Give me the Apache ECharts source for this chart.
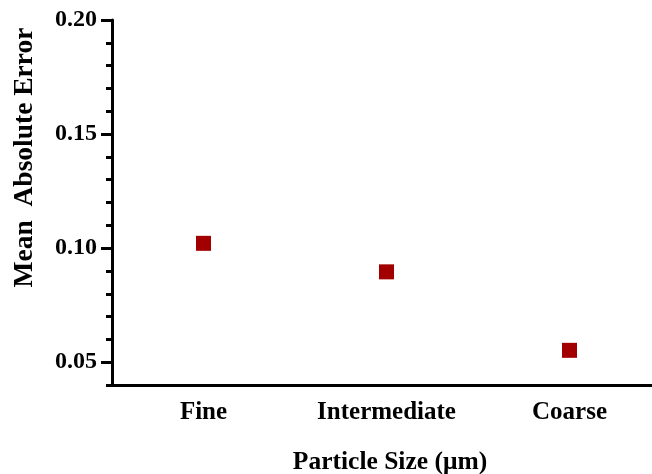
<!DOCTYPE html>
<html>
<head>
<meta charset="utf-8">
<script src="https://cdn.jsdelivr.net/npm/echarts@6/dist/echarts.min.js"></script>
<style>
  html, body { margin: 0; padding: 0; background: #fff; }
  #chart { width: 652px; height: 474px; }
</style>
</head>
<body>
<div id="chart"></div>
<script>
// Particle size classes and their mean absolute error
const categories = ['Fine', 'Intermediate', 'Coarse'];
const maeValues = [0.1021, 0.0896, 0.0552];
const majorTicks = [0.05, 0.10, 0.15, 0.20];

const FONT = "'Liberation Serif', 'Times New Roman', serif";
const INK = '#000';

const chart = echarts.init(document.getElementById('chart'), null, { renderer: 'canvas' });

chart.setOption({
  animation: false,
  backgroundColor: '#fff',
  grid: { left: 112, top: 20, width: 549, height: 365, outerBoundsMode: 'none', containLabel: false },
  xAxis: {
    type: 'category',
    data: categories,
    boundaryGap: true,
    axisLine: { lineStyle: { color: INK, width: 3 } },
    axisTick: { alignWithLabel: true, length: 11, lineStyle: { color: INK, width: 3 } },
    axisLabel: { interval: 0, hideOverlap: false, color: INK, fontFamily: FONT, fontWeight: 'bold', fontSize: 25, margin: 15 },
    splitLine: { show: false },
    name: 'Particle Size (\u03bcm)',
    nameLocation: 'middle',
    nameGap: 64,
    nameTextStyle: { color: INK, fontFamily: FONT, fontWeight: 'bold', fontSize: 25.5, padding: [0, 0, 0, 7] }
  },
  yAxis: [
    {
      // minor ticks every 0.01 plus the labelled values
      type: 'value',
      min: 0.04,
      max: 0.20,
      interval: 0.01,
      position: 'left',
      axisLine: { show: true, lineStyle: { color: INK, width: 3 } },
      axisTick: { show: true, length: 6, lineStyle: { color: INK, width: 3 } },
      axisLabel: {
        customValues: majorTicks,
        formatter: v => v.toFixed(2),
        color: INK, fontFamily: FONT, fontWeight: 'bold', fontSize: 24, margin: 15
      },
      splitLine: { show: false }
    },
    {
      // longer major ticks at 0.05 steps
      type: 'value',
      min: 0.04,
      max: 0.20,
      interval: 0.01,
      position: 'left',
      offset: 0,
      axisLine: { show: false },
      axisTick: { show: true, customValues: majorTicks, length: 11, lineStyle: { color: INK, width: 3 } },
      axisLabel: { show: false },
      splitLine: { show: false }
    }
  ],
  graphic: [
    {
      type: 'text',
      x: 25,
      y: 157.5,
      rotation: Math.PI / 2,
      style: {
        text: 'Mean  Absolute Error',
        fill: INK,
        font: "bold 27.5px " + FONT,
        textAlign: 'center',
        textVerticalAlign: 'middle'
      }
    }
  ],
  series: [
    {
      type: 'scatter',
      data: maeValues,
      symbol: 'rect',
      symbolSize: 15,
      itemStyle: { color: '#a20000', opacity: 1 }
    }
  ]
});
</script>
</body>
</html>
